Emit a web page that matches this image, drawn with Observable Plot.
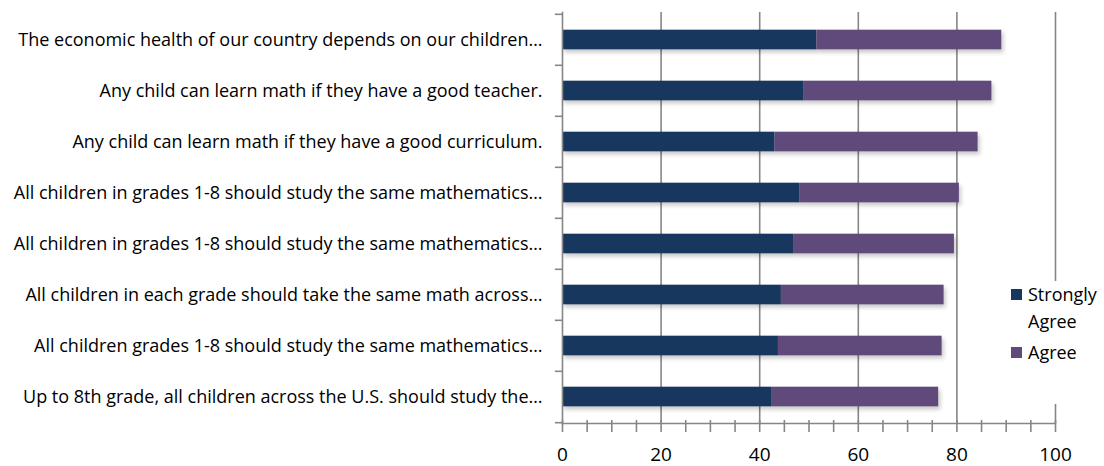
<!DOCTYPE html>
<html>
<head>
<meta charset="utf-8">
<script src="https://cdn.jsdelivr.net/npm/d3@7"></script>
<script src="https://cdn.jsdelivr.net/npm/@observablehq/plot@0.6"></script>
<style>
  html, body { margin: 0; padding: 0; background: #fff; }
  #chart { position: relative; width: 1104px; height: 466px; font-family: "Open Sans", sans-serif; }
  #chart svg { position: absolute; left: 0; top: 0; }
  .legend { position: absolute; left: 1003px; top: 281px; width: 101px; height: 123px; background: #fff; }
  .legend .item { position: absolute; left: 8px; font-size: 18px; line-height: 27px; color: #000; }
  .legend .swatch { position: absolute; left: 0; width: 11px; height: 11px; }
  .legend .label { position: absolute; left: 17px; top: 0; white-space: nowrap; }
</style>
</head>
<body>
<div id="chart"></div>
<script>
// Survey statements (two of them are truncated to the same text)
const questions = [
  "The economic health of our country depends on our children…",
  "Any child can learn math if they have a good teacher.",
  "Any child can learn math if they have a good curriculum.",
  "All children in grades 1-8 should study the same mathematics…",
  "All children in grades 1-8 should study the same mathematics…",
  "All children in each grade should take the same math across…",
  "All children grades 1-8 should study the same mathematics…",
  "Up to 8th grade, all children across the U.S. should study the…"
];
const seriesNames = ["Strongly Agree", "Agree"];
const seriesColors = ["#17375e", "#604a7b"];
const stronglyAgree = [51.6, 48.9, 43.1, 48.1, 47.0, 44.4, 43.8, 42.4];
const agree = [37.5, 38.2, 41.2, 32.4, 32.5, 33.0, 33.2, 33.9];
const xTicks = [0, 20, 40, 60, 80, 100];

// Long-format rows; the row index keys the band so duplicate texts stay separate
const rows = [];
questions.forEach((q, i) => {
  rows.push({i, series: seriesNames[0], value: stronglyAgree[i]});
  rows.push({i, series: seriesNames[1], value: agree[i]});
});
const idx = questions.map((_, i) => i);

const W = 1104, H = 466, mTop = 12, mBottom = 43;
const step = (H - mTop - mBottom) / questions.length;
const barH = 20;
const grid = "#868686";

const plot = Plot.plot({
  width: W,
  height: H,
  marginLeft: 562,
  marginRight: 49,
  marginTop: mTop,
  marginBottom: mBottom,
  style: {fontFamily: "Open Sans, sans-serif", color: "#000", background: "transparent"},
  x: {domain: [0, 100], label: null},
  y: {domain: idx, padding: 0, label: null},
  color: {domain: seriesNames, range: seriesColors},
  marks: [
    // vertical gridlines
    Plot.ruleX(xTicks.slice(1), {stroke: grid, strokeWidth: 1.6, strokeOpacity: 1}),
    // stacked bars
    Plot.barX(rows, Plot.stackX({
      y: "i",
      x: "value",
      fill: "series",
      order: seriesNames,
      insetTop: (step - barH) / 2,
      insetBottom: (step - barH) / 2
    })),
    // axis lines
    Plot.frame({anchor: "left", stroke: grid, strokeWidth: 1.6, strokeOpacity: 1}),
    Plot.frame({anchor: "bottom", stroke: grid, strokeWidth: 1.6, strokeOpacity: 1}),
    // category boundary ticks on the y axis
    Plot.ruleY(idx, {y: d => d, x1: 0, x2: -1.45, dy: -step / 2, stroke: grid, strokeWidth: 1.6, strokeOpacity: 1}),
    Plot.ruleY([idx.length - 1], {y: d => d, x1: 0, x2: -1.45, dy: step / 2, stroke: grid, strokeWidth: 1.6, strokeOpacity: 1}),
    // x ticks every 5, labels every 20
    Plot.axisX({ticks: d3.range(0, 101, 5), tickSize: 12, dy: -3, tickFormat: () => "", label: null, stroke: grid, strokeWidth: 1.6, strokeOpacity: 1}),
    Plot.axisX({ticks: xTicks, tickSize: 0, tickPadding: 24, fontSize: 19, fill: "#000", label: null}),
    Plot.axisY({tickSize: 0, tickPadding: 20, fontSize: 18, fill: "#000", label: null, tickFormat: i => questions[i]})
  ]
});

// soft drop shadow under the bars
d3.select(plot).selectAll('g[aria-label="bar"]').style("filter", "drop-shadow(2px 3px 2px rgba(0,0,0,0.22))");

const chart = document.getElementById("chart");
chart.appendChild(plot);

// legend
const legend = document.createElement("div");
legend.className = "legend";
const legendItems = [
  {name: seriesNames[0], lines: ["Strongly", "Agree"], color: seriesColors[0], top: 0},
  {name: seriesNames[1], lines: ["Agree"], color: seriesColors[1], top: 58}
];
legendItems.forEach(it => {
  const item = document.createElement("div");
  item.className = "item";
  item.style.top = it.top + "px";
  const sw = document.createElement("div");
  sw.className = "swatch";
  sw.style.background = it.color;
  sw.style.top = "8px";
  const lab = document.createElement("div");
  lab.className = "label";
  lab.innerHTML = it.lines.join("<br>");
  item.appendChild(sw);
  item.appendChild(lab);
  legend.appendChild(item);
});
chart.appendChild(legend);
</script>
</body>
</html>
